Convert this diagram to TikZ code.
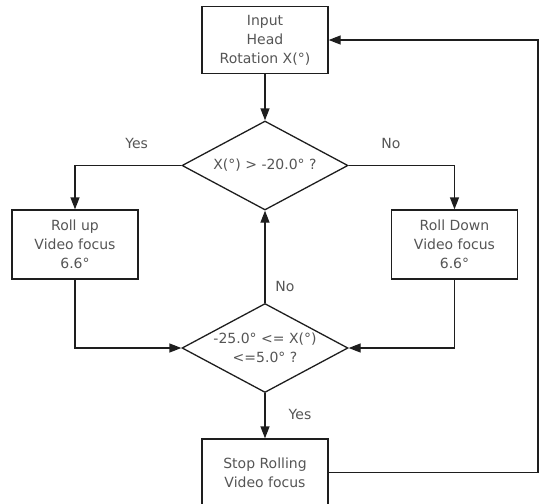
\documentclass[tikz,border=0pt]{standalone}
\usepackage{fontspec}
\setmainfont{DejaVu Sans}
\usetikzlibrary{shapes.geometric,arrows.meta}
\definecolor{txtgray}{HTML}{555555}
\definecolor{linegray}{HTML}{1E1E1E}
\tikzset{
    flowbox/.style={draw=linegray, line width=1.3pt, minimum width=126pt, minimum height=67pt, inner sep=0pt, align=center, text=txtgray},
    decision/.style={draw=linegray, line width=1.3pt, diamond, aspect=1.87, minimum width=166pt, minimum height=89pt, inner sep=0pt, align=center, text=txtgray},
    flow/.style={draw=linegray, line width=1.3pt, -{Triangle[length=12pt,width=9pt]}},
    answer/.style={text=txtgray, inner sep=0pt}
}
\begin{document}
\begin{tikzpicture}[x=1pt, y=-1pt, font=\fontsize{14}{19}\selectfont]
    \useasboundingbox (0,0) rectangle (539,504);
    % Boxes and decisions
    \node[flowbox] (input) at (265,40) {Input\\Head\\Rotation X(°)};
    \node[decision] (dec1) at (265,165.5) {X(°) > -20.0° ?};
    \node[flowbox, minimum height=69pt] (rollup) at (75,244.5) {Roll up\\Video focus\\6.6°};
    \node[flowbox, minimum height=69pt] (rolldown) at (454.5,244.5) {Roll Down\\Video focus\\6.6°};
    \node[decision] (dec2) at (265,348) {-25.0° <= X(°)\\<=5.0° ?};
    \node[flowbox] (stop) at (265,472.5) {Stop Rolling\\Video focus};
    \coordinate (loopcorner) at (538,472.5);
    % Connectors
    \draw[flow] (input) -- (dec1);
    \draw[flow] (dec1.west) -| (rollup.north) node[answer, pos=0.21, yshift=22pt] (yes1) {Yes};
    \draw[flow] (dec1.east) -| (rolldown.north) node[answer, pos=0.2, yshift=22pt] (no1) {No};
    \draw[flow] (rollup.south) |- (dec2.west);
    \draw[flow] (rolldown.south) |- (dec2.east);
    \draw[flow] (dec2.north) -- (dec1.south) node[answer, pos=0.18, xshift=20pt] (no2) {No};
    \draw[flow] (dec2.south) -- (stop.north) node[answer, pos=0.47, xshift=35pt] (yes2) {Yes};
    \draw[flow] (stop.east) -- (loopcorner) |- (input.east);
\end{tikzpicture}
\end{document}
